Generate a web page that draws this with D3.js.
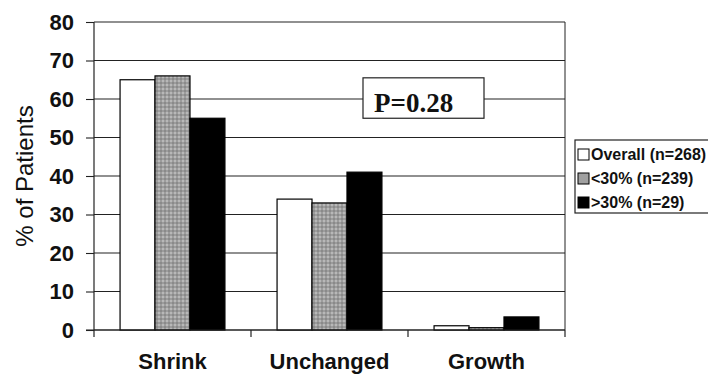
<!DOCTYPE html>
<html>
<head>
<meta charset="utf-8">
<script src="https://cdn.jsdelivr.net/npm/d3@7"></script>
<style>
  body { margin: 0; background: #fff; }
  svg { display: block; }
</style>
</head>
<body>
<div id="chart"></div>
<script>
const categories = ["Shrink", "Unchanged", "Growth"];
const seriesNames = ["Overall (n=268)", "<30% (n=239)", ">30% (n=29)"];
const overall = [65, 34, 1.1];
const under30 = [66, 33, 0.6];
const over30 = [55, 41, 3.4];
const yTicks = [0, 10, 20, 30, 40, 50, 60, 70, 80];
const pText = "P=0.28";

let width = 708,
    height = 375,
    margin = ({ top: 22, right: 143, bottom: 45, left: 94 });

const svg = d3.select("#chart")
  .append("svg")
  .attr("width", width)
  .attr("height", height);

// gray checkered fill for the middle series
const defs = svg.append("defs");
const pat = defs.append("pattern")
  .attr("id", "grayDots")
  .attr("patternUnits", "userSpaceOnUse")
  .attr("width", 4).attr("height", 4);
pat.append("rect").attr("width", 4).attr("height", 4).attr("fill", "#9c9c9c");
pat.append("rect").attr("x", 0).attr("y", 0).attr("width", 2).attr("height", 2).attr("fill", "#b8b8b8");
pat.append("rect").attr("x", 2).attr("y", 2).attr("width", 2).attr("height", 2).attr("fill", "#8a8a8a");

const fills = ["#ffffff", "url(#grayDots)", "#000000"];
const swatchFills = ["#ffffff", "#a0a0a0", "#000000"];

const data = categories.map((c, i) => ({
  cat: c,
  vals: [overall[i], under30[i], over30[i]]
}));

const x = d3.scaleBand()
  .domain(categories)
  .range([margin.left, width - margin.right]);

const xs = d3.scaleBand()
  .domain(seriesNames)
  .range([x.bandwidth() * 0.166, x.bandwidth() * 0.834]);

const y = d3.scaleLinear()
  .domain([0, 80])
  .range([height - margin.bottom, margin.top]);

const x0 = margin.left, x1 = width - margin.right;

// gridlines
svg.append("g")
  .selectAll("line")
  .data(yTicks)
  .join("line")
  .attr("x1", x0).attr("x2", x1)
  .attr("y1", d => y(d)).attr("y2", d => y(d))
  .attr("stroke", "#222")
  .attr("stroke-width", 1.1);

// right border
svg.append("line")
  .attr("x1", x1).attr("x2", x1)
  .attr("y1", y(80)).attr("y2", y(0))
  .attr("stroke", "#222");

// bars
svg.append("g")
  .selectAll("g")
  .data(data)
  .join("g")
  .attr("transform", d => `translate(${x(d.cat)},0)`)
  .selectAll("rect")
  .data(d => d.vals.map((v, j) => ({ v, s: seriesNames[j], j })))
  .join("rect")
  .attr("x", d => xs(d.s))
  .attr("width", xs.bandwidth())
  .attr("y", d => y(d.v))
  .attr("height", d => y(0) - y(d.v))
  .attr("fill", d => fills[d.j])
  .attr("stroke", "#000")
  .attr("stroke-width", 1.2);

// y axis
const yAxis = svg.append("g")
  .attr("transform", `translate(${x0},0)`)
  .call(d3.axisLeft(y).tickValues(yTicks).tickSize(8).tickPadding(12));
yAxis.select(".domain").remove();
yAxis.append("line")
  .attr("x1", 0).attr("x2", 0)
  .attr("y1", y(80)).attr("y2", y(0) + 7)
  .attr("stroke", "#222").attr("stroke-width", 1.2);
yAxis.selectAll(".tick line").attr("stroke", "#222").attr("stroke-width", 1.1);
yAxis.selectAll(".tick text")
  .attr("fill", "#111")
  .style("font-family", "Liberation Sans, Arial, sans-serif")
  .style("font-size", "22px")
  .style("font-weight", "bold");

// x axis: baseline, ticks at category boundaries
svg.append("line")
  .attr("x1", x0 - 8).attr("x2", x1)
  .attr("y1", y(0)).attr("y2", y(0))
  .attr("stroke", "#222").attr("stroke-width", 1.2);
svg.append("g")
  .selectAll("line")
  .data(categories.slice(1).map(c => x(c)).concat([x1]))
  .join("line")
  .attr("x1", d => d).attr("x2", d => d)
  .attr("y1", y(0)).attr("y2", y(0) + 7)
  .attr("stroke", "#222").attr("stroke-width", 1.2);

svg.append("g")
  .selectAll("text")
  .data(categories)
  .join("text")
  .attr("x", d => x(d) + x.bandwidth() / 2)
  .attr("y", height - 6)
  .attr("text-anchor", "middle")
  .style("font-family", "Liberation Sans, Arial, sans-serif")
  .style("font-size", "22px")
  .style("font-weight", "bold")
  .attr("fill", "#111")
  .text(d => d);

// y label
svg.append("text")
  .attr("transform", `translate(33,${(y(0) + y(80)) / 2}) rotate(-90)`)
  .attr("text-anchor", "middle")
  .style("font-family", "Liberation Sans, Arial, sans-serif")
  .style("font-size", "24px")
  .attr("fill", "#111")
  .text("% of Patients");

// P value box
const pb = svg.append("g");
pb.append("rect")
  .attr("x", 363).attr("y", y(65.5))
  .attr("width", 121).attr("height", y(55) - y(65.5))
  .attr("fill", "#fff")
  .attr("stroke", "#222").attr("stroke-width", 1.2);
pb.append("text")
  .attr("x", 374).attr("y", y(56.6))
  .style("font-family", "Liberation Serif, Times New Roman, serif")
  .style("font-size", "27px")
  .style("font-weight", "bold")
  .attr("fill", "#111")
  .text(pText);

// legend
const legend = svg.append("g")
  .attr("class", "legend")
  .attr("transform", "translate(575,140)");
legend.append("rect")
  .attr("x", 0).attr("y", 0)
  .attr("width", 140).attr("height", 73)
  .attr("fill", "#fff")
  .attr("stroke", "#222").attr("stroke-width", 1.2);
legend.selectAll("rect.sw")
  .data(seriesNames)
  .join("rect")
  .attr("class", "sw")
  .attr("x", 3)
  .attr("y", (d, i) => 9 + i * 24)
  .attr("width", 11).attr("height", 11)
  .attr("fill", (d, i) => swatchFills[i])
  .attr("stroke", "#000");
legend.selectAll("text")
  .data(seriesNames)
  .join("text")
  .attr("x", 16)
  .attr("y", (d, i) => 20 + i * 24)
  .style("font-family", "Liberation Sans, Arial, sans-serif")
  .style("font-size", "16px")
  .style("font-weight", "bold")
  .attr("fill", "#111")
  .text(d => d);
</script>
</body>
</html>
